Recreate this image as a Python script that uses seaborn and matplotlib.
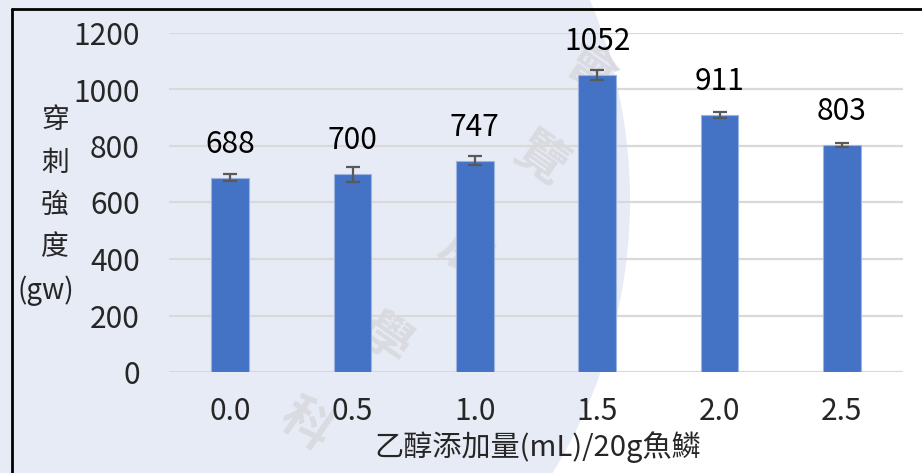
import matplotlib
matplotlib.use("Agg")
import matplotlib.pyplot as plt
import pandas as pd
import seaborn as sns
from matplotlib.patches import Circle
from matplotlib.lines import Line2D

# Ethanol added per 20 g of fish scales (mL) and puncture strength (gw)
ethanol = ["0.0", "0.5", "1.0", "1.5", "2.0", "2.5"]
strength = [688, 700, 747, 1052, 911, 803]
strength_err = [12, 27, 16, 18, 11, 7]
y_ticks = [0, 200, 400, 600, 800, 1000, 1200]

W, H = 922, 473
FS = 21.5
WT = "medium"
sns.set_theme(style="white")
plt.rcParams["font.family"] = ["Noto Sans CJK TC", "DejaVu Sans"]

fig = plt.figure(figsize=(W / 100, H / 100), dpi=100)
fig.patch.set_facecolor("white")

# pale backdrop with faint lettering
bg = fig.add_axes([0, 0, 1, 1], zorder=0)
bg.set_xlim(0, W)
bg.set_ylim(H, 0)
bg.axis("off")
bg.add_patch(Circle((110, 200), 520, color="#E7EBF5", lw=0))
for ch, (cx, cy) in zip("科學展覽會", [(305, 425), (385, 340), (465, 255), (540, 160), (590, 70)]):
    bg.text(cx, cy, ch, fontsize=36, color="#D9DBE1", rotation=-35,
            ha="center", va="center", fontweight="bold")

ax = fig.add_axes([169 / W, 1 - 372 / H, 734 / W, 339 / H], zorder=1)
ax.patch.set_alpha(0)

df = pd.DataFrame({"ethanol": ethanol, "strength": strength})
sns.barplot(data=df, x="ethanol", y="strength", color="#4472C4", saturation=1,
            width=0.31, edgecolor="#9DB4E0", linewidth=0.8, errorbar=None,
            ax=ax, zorder=3)
ax.errorbar(range(len(ethanol)), strength, yerr=strength_err, fmt="none",
            ecolor="#595959", elinewidth=1.6, capsize=5, capthick=1.6, zorder=4)

for i, v in enumerate(strength):
    ax.annotate(f"{v}", (i, v), xytext=(0, 24), textcoords="offset points",
                ha="center", va="center", fontsize=FS, fontweight=WT, color="black")

ax.set_xlim(-0.5, len(ethanol) - 0.5)
ax.set_ylim(0, 1200)
ax.set_yticks(y_ticks)
ax.set_yticklabels([str(t) for t in y_ticks], fontsize=FS, fontweight=WT)
for lab in ax.get_xticklabels():
    lab.set_fontsize(FS)
    lab.set_fontweight(WT)
ax.tick_params(axis="y", length=0, pad=21)
ax.tick_params(axis="x", length=0, pad=17)
ax.yaxis.grid(True, color="#D9D9D9", lw=1.6)
ax.set_axisbelow(True)
for s in ax.spines.values():
    s.set_visible(False)
ax.set_xlabel("")
ax.set_ylabel("")

# stacked vertical axis title
for k, ch in enumerate("穿刺強度"):
    fig.text(55 / W, 1 - (120 + 42.5 * k) / H, ch, fontsize=20, fontweight=WT,
             ha="center", va="center")
fig.text(46 / W, 1 - 291 / H, "(gw)", fontsize=20, fontweight=WT,
         ha="center", va="center")

fig.text(538 / W, 1 - 447 / H, "乙醇添加量(mL)/20g魚鱗", fontsize=21,
         fontweight=WT, ha="center", va="center")

# chart frame edges
fig.add_artist(Line2D([12 / W, 12 / W], [0, 1 - 9 / H], color="black", lw=2))
fig.add_artist(Line2D([12 / W, 1], [1 - 9 / H, 1 - 9 / H], color="black", lw=2))

fig.savefig("out.png", dpi=100)
